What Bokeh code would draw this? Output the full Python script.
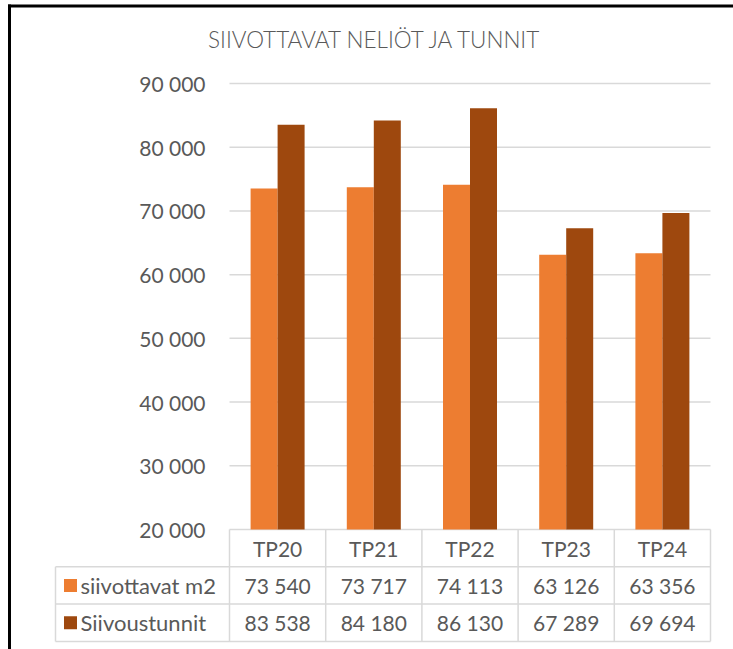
from bokeh.plotting import figure
from bokeh.models import Range1d, ColumnDataSource
from bokeh.embed import file_html
from bokeh.resources import INLINE
from bokeh.core.properties import value

# ---------------- data ----------------
categories = ["TP20", "TP21", "TP22", "TP23", "TP24"]
siivottavat_m2 = [73540, 73717, 74113, 63126, 63356]
siivoustunnit = [83538, 84180, 86130, 67289, 69694]
series_names = ["siivottavat m2", "Siivoustunnit"]
y_ticks = [20000, 30000, 40000, 50000, 60000, 70000, 80000, 90000]
title_text = "SIIVOTTAVAT  NELIÖT  JA TUNNIT"

# ---------------- style ----------------
ORANGE = "#ED7D31"
BROWN = "#9E480E"
TEXT = "#595959"
GRID = "#D9D9D9"
FONT = value("Lato")
TITLE_FONT = value("Lato Light")

def fmt(v):
    return f"{v:,}".replace(",", " ")

# ---------------- geometry (pixels -> data) ----------------
W, H = 733, 649
cat_px = 96.2              # width of one category in px
x0_px = 229                # left edge of first category
px_per_unit = 6.371 / 1000 # vertical px per value unit
base = y_ticks[0]
base_px = 529              # y pixel of the base line
row_h = 37.3 / px_per_unit # table row height in data units

def xd(px):
    return (px - x0_px) / cat_px

def yd(py):
    return base + (base_px - py) / px_per_unit

x_start, x_end = xd(0), xd(W)
y_start, y_end = yd(H), yd(0)

n = len(categories)
table_left = xd(55)

p = figure(width=W, height=H, output_backend="svg", toolbar_location=None,
           x_range=Range1d(x_start, x_end), y_range=Range1d(y_start, y_end),
           x_axis_location=None, y_axis_location=None,
           min_border=0, min_border_left=0, min_border_right=0,
           min_border_top=0, min_border_bottom=0)
p.outline_line_color = None
p.grid.visible = False
p.background_fill_color = "white"
p.border_fill_color = "white"

# gridlines
p.segment(x0=[0] * len(y_ticks), x1=[n] * len(y_ticks), y0=y_ticks, y1=y_ticks,
          line_color=GRID, line_width=1.5)

# y tick labels
p.text(x=[xd(205)] * len(y_ticks), y=y_ticks, text=[fmt(t) for t in y_ticks],
       text_font=FONT, text_font_size="21px", text_color=TEXT,
       text_align="right", text_baseline="middle")

# bars
centers = [i + 0.5 for i in range(n)]
bw = 27 / cat_px
src = ColumnDataSource(dict(
    x1=[c - bw / 2 for c in centers], x2=[c + bw / 2 for c in centers],
    m2=siivottavat_m2, h=siivoustunnit, b=[base] * n))
p.vbar(x="x1", top="m2", bottom="b", width=bw, source=src,
       fill_color=ORANGE, line_color=None)
p.vbar(x="x2", top="h", bottom="b", width=bw, source=src,
       fill_color=BROWN, line_color=None)

# title
p.text(x=[xd(381)], y=[yd(39)], text=[title_text],
       text_font=TITLE_FONT, text_font_size="22.5px", text_color=TEXT,
       text_align="center", text_baseline="middle")

# ---------------- data table ----------------
hy = [base - row_h * k for k in (1, 2, 3)]
p.segment(x0=[table_left] * 3, x1=[n] * 3, y0=hy, y1=hy, line_color=GRID, line_width=1.5)
vx = list(range(n + 1))
p.segment(x0=vx, x1=vx, y0=[base] * len(vx), y1=[base - 3 * row_h] * len(vx),
          line_color=GRID, line_width=1.5)
p.segment(x0=[table_left], x1=[table_left], y0=[base - row_h], y1=[base - 3 * row_h],
          line_color=GRID, line_width=1.5)

# header
p.text(x=centers, y=[base - row_h / 2] * n, text=categories,
       text_font=FONT, text_font_size="21px", text_color=TEXT,
       text_align="center", text_baseline="middle")

# row labels with swatches
row_y = [base - row_h * 1.5, base - row_h * 2.5]
p.rect(x=[xd(70)] * 2, y=row_y, width=13, height=13,
       width_units="screen", height_units="screen",
       fill_color=[ORANGE, BROWN], line_color=None)
p.text(x=[xd(80)] * 2, y=row_y, text=series_names,
       text_font=FONT, text_font_size="22px", text_color=TEXT,
       text_align="left", text_baseline="middle")

# values
for vals, yy in zip([siivottavat_m2, siivoustunnit], row_y):
    p.text(x=centers, y=[yy] * n, text=[fmt(v) for v in vals],
           text_font=FONT, text_font_size="21px", text_color=TEXT,
           text_align="center", text_baseline="middle")

# outer border (left and top, black) as filled strips
p.quad(left=[xd(7.5), xd(7.5)], right=[xd(10.5), x_end],
       top=[yd(4), yd(4)], bottom=[y_start, yd(7)],
       fill_color="black", line_color=None)

open("out.html", "w").write(file_html(p, INLINE))
